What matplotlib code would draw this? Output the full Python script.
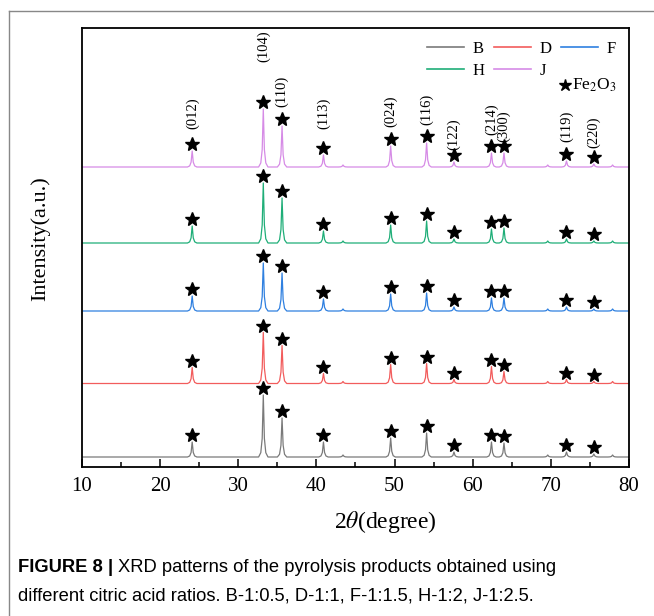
import numpy as np
import matplotlib
matplotlib.use("Agg")
import matplotlib.pyplot as plt
from matplotlib.lines import Line2D

plt.rcParams['font.family'] = ['Liberation Serif', 'DejaVu Serif']
plt.rcParams['mathtext.fontset'] = 'stix'

# ---- datos ----
picos = [24.1, 33.2, 35.6, 40.9, 49.5, 54.1, 57.6, 62.4, 64.0, 72.0, 75.5]
indices = ['(012)', '(104)', '(110)', '(113)', '(024)', '(116)',
           '(122)', '(214)', '(300)', '(119)', '(220)']
# altura de la base del rotulo (J)
y_rotulo = [338, 405, 360, 338, 340, 342, 317, 332, 325, 325, 319]

muestras = ['B', 'D', 'F', 'H', 'J']
colores = ['#7a7a7a', '#f25c5c', '#2f80e0', '#1fae78', '#d68be6']
base = [10, 83.5, 156, 224, 300]
alturas = {
    'B': [15, 62, 39, 15, 19, 24, 5, 15, 14, 5, 3],
    'D': [16, 51, 38, 10, 19, 20, 4, 17, 12, 4, 2],
    'F': [15, 48, 38, 12, 17, 18, 4, 13, 13, 4, 2],
    'H': [17, 60, 45, 12, 18, 22, 4, 14, 15, 4, 2],
    'J': [16, 58, 41, 12, 21, 24, 5, 14, 14, 6, 3],
}
# picos menores sin marcar
picos_menores = [43.4, 69.6, 77.9]
alt_menores = [2, 2, 2]


def perfil(pos, alt, y0):
    """polilinea de un difractograma a partir de picos (pos, altura)"""
    forma = [(-0.6, 0.0), (-0.32, 0.07), (-0.14, 0.3), (-0.05, 0.75), (0.0, 1.0),
             (0.05, 0.75), (0.14, 0.3), (0.32, 0.07), (0.6, 0.0)]
    pts = [(10.0, 0.0)]
    for p, h in sorted(zip(pos, alt)):
        for dx, f in forma:
            pts.append((p + dx, f * h))
    pts.append((80.0, 0.0))
    pts = np.array(pts)
    return pts[:, 0], pts[:, 1] + y0


fig = plt.figure(figsize=(6.54, 6.16), dpi=100)
ax = fig.add_axes([82/654, 1 - 467/616, 547/654, 439/616])

for m, c, y0 in zip(muestras, colores, base):
    x, y = perfil(picos + picos_menores, alturas[m] + alt_menores, y0)
    ax.plot(x, y, color=c, lw=0.9)
    ys = np.array(alturas[m]) + y0 + 7
    ax.plot(picos, ys, ls='none', marker='*', ms=10, color='k')

for p, t, yr in zip(picos, indices, y_rotulo):
    ax.text(p, yr, t, rotation=90, ha='center', va='bottom', fontsize=10.5)

ax.set_xlim(10, 80)
ax.set_ylim(0, 439)
ax.set_xticks(np.arange(10, 81, 10))
ax.set_xticks(np.arange(15, 80, 10), minor=True)
ax.set_yticks([])
ax.tick_params(axis='x', which='major', direction='in', length=6, width=1.1,
               labelsize=15, pad=7)
ax.tick_params(axis='x', which='minor', direction='in', length=3.5, width=1.1)
for s in ax.spines.values():
    s.set_linewidth(1.3)

ax.set_xlabel(r'2$\theta$(degree)', fontsize=17)
ax.xaxis.set_label_coords((385 - 82) / 547, -0.095)
ax.set_ylabel('Intensity(a.u.)', fontsize=16)
ax.yaxis.set_label_coords(-0.058, 0.52)

# leyenda
handles = [Line2D([], [], color=c, lw=1.2) for c in colores]
orden = [0, 3, 1, 4, 2]
leg = ax.legend([handles[i] for i in orden], [muestras[i] for i in orden],
                ncol=3, loc='upper right', bbox_to_anchor=(1.0, 1.0),
                frameon=False, fontsize=12, handlelength=2.2,
                columnspacing=0.6, handletextpad=0.5, labelspacing=0.35,
                borderaxespad=0.4)
ax.plot([0.883], [0.87], transform=ax.transAxes, marker='*', ms=9,
        color='k', ls='none', clip_on=False)
ax.text(0.896, 0.87, r'Fe$_2$O$_3$', transform=ax.transAxes, fontsize=12.5,
        va='center', ha='left')

# marco exterior
fig.add_artist(Line2D([9/654, 1], [1 - 11/616, 1 - 11/616], color='#888888', lw=1))
fig.add_artist(Line2D([9/654, 9/654], [0, 1 - 11/616], color='#888888', lw=1))

# pie de figura
t1 = fig.text(18/654, 1 - 568/616, 'FIGURE 8 |', family='Liberation Sans',
              weight='bold', fontsize=13.2, va='center', ha='left')
fig.canvas.draw()
bb = t1.get_window_extent()
fig.text((bb.x1 + 5) / 654, 1 - 568/616,
         'XRD patterns of the pyrolysis products obtained using',
         family='Liberation Sans', fontsize=13.2, va='center', ha='left')
fig.text(18/654, 1 - 596/616,
         'different citric acid ratios. B-1:0.5, D-1:1, F-1:1.5, H-1:2, J-1:2.5.',
         family='Liberation Sans', fontsize=13.2, va='center', ha='left')

fig.savefig('out.png', dpi=100)
